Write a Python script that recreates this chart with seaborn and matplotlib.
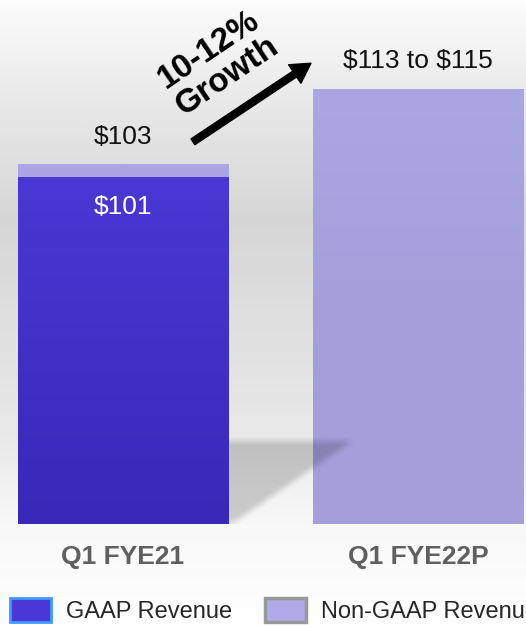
import numpy as np
import pandas as pd
import matplotlib.pyplot as plt
import seaborn as sns
from matplotlib.patches import Patch
from matplotlib.colors import LinearSegmentedColormap

# Revenue data ($M)
quarters = ["Q1 FYE21", "Q1 FYE22P"]
non_gaap = [103, 115]
gaap = [101, 0]
top_labels = [r"\$103", r"\$113 to \$115"]
inner_labels = [r"\$101", ""]

sns.set_theme(style="white")
plt.rcParams["font.family"] = ["Liberation Sans", "DejaVu Sans"]

W, H = 526, 625
fig = plt.figure(figsize=(W / 100, H / 100), dpi=100)

# soft grey background gradient
bg = fig.add_axes([0, 0, 1, 1], zorder=0)
stops = [(0.0, "#fcfcfc"), (0.16, "#e9e9e9"), (0.35, "#d6d6d6"), (0.53, "#e0e0e0"),
         (0.70, "#e9e9e9"), (0.84, "#f8f8f8"), (1.0, "#ffffff")]
bg_cmap = LinearSegmentedColormap.from_list("bg", stops)
bg.imshow(np.linspace(0, 1, 400).reshape(-1, 1), cmap=bg_cmap, aspect="auto",
          extent=[0, 1, 1, 0])
bg.set_xlim(0, 1)
bg.set_ylim(1, 0)
bg.axis("off")

ax = fig.add_axes([0, 101 / H, 1, 524 / H], zorder=1)
ax.patch.set_alpha(0)

df = pd.DataFrame({"quarter": quarters, "non_gaap": non_gaap, "gaap": gaap})
sns.barplot(data=df, x="quarter", y="non_gaap", color="#a79fdd", width=0.712,
            saturation=1, linewidth=0, ax=ax)
sns.barplot(data=df, x="quarter", y="gaap", color="#4433cc", width=0.712,
            saturation=1, linewidth=0, ax=ax)

ymin, ymax = 45.8, 129.16
xmin, xmax = -0.417, 1.366
n = len(quarters)
for p in ax.patches[n:]:
    p.set_zorder(3)

# vertical gradients on the bars
grads = [("#a59edb", "#a59edb", "#ada6e4")] * n + [("#3a28b9", "#4230c6", "#4a37d5")] * n
for patch, cols in zip(ax.patches, grads):
    h = patch.get_height()
    if h <= 0:
        continue
    x0 = patch.get_x()
    x1 = x0 + patch.get_width()
    cm = LinearSegmentedColormap.from_list("g", cols)
    im = ax.imshow(np.linspace(0, 1, 200).reshape(-1, 1), cmap=cm, aspect="auto",
                   origin="lower", extent=[x0, x1, ymin, h], zorder=patch.get_zorder())
    im.set_clip_path(patch)

# drop shadow behind the first bar
gx = np.linspace(xmin, xmax, 526)
gy = np.linspace(ymin, ymax, 524)
X, Y = np.meshgrid(gx, gy)
px = X * 295 + 123
py = 811.9 - Y * 6.286
tri = (py >= 441) & (py <= 524) & (px >= 222) & (py <= 524 - (px - 232) * (84 / 122))
mask = tri.astype(float)
k = 9
ker = np.ones(k) / k
mask = np.apply_along_axis(lambda r: np.convolve(r, ker, mode="same"), 1, mask)
mask = np.apply_along_axis(lambda c: np.convolve(c, ker, mode="same"), 0, mask)
mask[px < 228] = 0
rgba = np.zeros(mask.shape + (4,))
rgba[..., 3] = mask * 0.18
ax.imshow(rgba, origin="lower", aspect="auto", extent=[xmin, xmax, ymin, ymax],
          zorder=2.5, interpolation="bilinear")
ax.set_xlim(xmin, xmax)
ax.set_ylim(ymin, ymax)

# value labels
for i in range(n):
    ax.annotate(top_labels[i], (i, non_gaap[i]), xytext=(0, 20), textcoords="offset points",
                ha="center", va="center", fontsize=19, color="#111111")
    if inner_labels[i]:
        ax.annotate(inner_labels[i], (i, gaap[i]), xytext=(0, -21.5), textcoords="offset points",
                    ha="center", va="center", fontsize=19, color="white", zorder=5)

# growth arrow
ax.annotate("", xy=(0.637, 119.1), xytext=(0.237, 106.6),
            arrowprops=dict(facecolor="black", edgecolor="black", width=5,
                            headwidth=16, headlength=14, shrink=0))
ax.text(0.322, 119.1, "10-12%\nGrowth", rotation=34, rotation_mode="anchor",
        ha="center", va="center", multialignment="center", linespacing=1.05,
        fontsize=24, fontweight="bold", color="black")

ax.set_xlabel("")
ax.set_ylabel("")
ax.set_yticks([])
ax.tick_params(axis="x", length=0, pad=15, labelsize=19, labelcolor="#5f5f5f")
for t in ax.get_xticklabels():
    t.set_fontweight("bold")
sns.despine(ax=ax, left=True, bottom=True)

handles = [Patch(facecolor="#4a37d6", edgecolor="#3d9bff", linewidth=2, label="GAAP Revenue"),
           Patch(facecolor="#b0a9ea", edgecolor="#999999", linewidth=2.5, label="Non-GAAP Revenue")]
fig.legend(handles=handles, loc="lower left", bbox_to_anchor=(10 / W, 2 / H), ncol=2,
           frameon=False, fontsize=17, handlelength=1.75, handleheight=1.2,
           handletextpad=0.62, columnspacing=1.4, borderpad=0, borderaxespad=0)

fig.savefig("out.png", dpi=100)
